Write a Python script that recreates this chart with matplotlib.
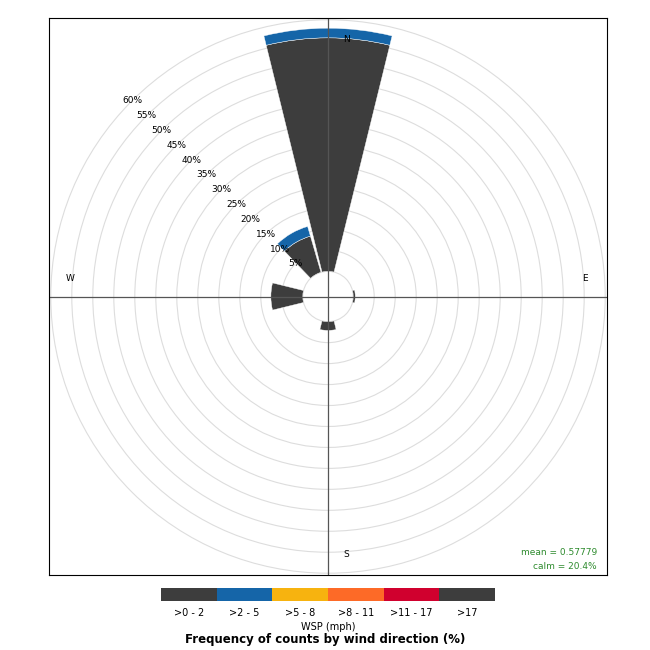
import matplotlib
matplotlib.use("Agg")
import matplotlib.pyplot as plt
from matplotlib.patches import Wedge, Circle, Rectangle
import numpy as np

# wind direction sectors (deg) and frequency per speed band (%)
directions = [0, 90, 180, 270, 330]
band_0_2 = [55.7, 0.5, 2.1, 7.6, 9.0]
band_2_5 = [2.3, 0.0, 0.0, 0.0, 2.4]
bands = [band_0_2, band_2_5]
band_labels = [">0 - 2", ">2 - 5", ">5 - 8", ">8 - 11", ">11 - 17", ">17"]
band_colors = ["#3d3d3d", "#1565a8", "#f7b30f", "#fd6a27", "#d0002e", "#3d3d3d"]
ring_levels = list(range(5, 65, 5))
mean_ws = 0.57779
calm = 20.4

hole = 6.0
sector = 30.0
gap = 1.2

fig = plt.figure(figsize=(6.5, 6.5), dpi=100)
ax = fig.add_axes([49 / 650, 75 / 650, 558 / 650, 557 / 650])
lim = 279 / 4.2
ax.set_xlim(-lim, lim)
ax.set_ylim(-lim, lim)
ax.set_xticks([])
ax.set_yticks([])
for s in ax.spines.values():
    s.set_linewidth(0.8)

for lvl in ring_levels:
    ax.add_patch(Circle((0, 0), hole + lvl, fill=False, ec="#dddddd", lw=0.8))
    a = np.deg2rad(135)
    ax.text((hole + lvl) * np.cos(a), (hole + lvl) * np.sin(a), f"{lvl}%",
            fontsize=6.5, ha="center", va="center")
ax.add_patch(Circle((0, 0), hole, fill=False, ec="#dddddd", lw=0.8))

for i, d in enumerate(directions):
    start = hole
    t1 = 90 - d - sector / 2 + gap
    t2 = 90 - d + sector / 2 - gap
    for b, vals in enumerate(bands):
        v = vals[i]
        if v <= 0:
            continue
        ax.add_patch(Wedge((0, 0), start + v, t1, t2, width=v,
                           fc=band_colors[b], ec="white", lw=0.3))
        start += v

r_axis = hole + 64.5
ax.plot([-r_axis, r_axis], [0, 0], color="#555555", lw=0.9)
ax.plot([0, 0], [-r_axis, r_axis], color="#555555", lw=0.9)

kw = dict(fontsize=6.5, ha="center", va="center")
ax.text(18 / 4.2, 257 / 4.2, "N", **kw)
ax.text(18 / 4.2, -258 / 4.2, "S", **kw)
ax.text(257 / 4.2, 18 / 4.2, "E", **kw)
ax.text(-258 / 4.2, 18 / 4.2, "W", **kw)

ax.text(0.982, 0.04, f"mean = {mean_ws}", transform=ax.transAxes,
        fontsize=6.5, color="#2e8b2e", ha="right", va="center")
ax.text(0.982, 0.015, f"calm = {calm}%", transform=ax.transAxes,
        fontsize=6.5, color="#2e8b2e", ha="right", va="center")

lax = fig.add_axes([161 / 650, 49 / 650, 334 / 650, 13 / 650])
lax.set_xlim(0, len(band_labels))
lax.set_ylim(0, 1)
lax.axis("off")
for i, (lab, c) in enumerate(zip(band_labels, band_colors)):
    lax.add_patch(Rectangle((i, 0), 1, 1, fc=c, ec="none"))
    lax.text(i + 0.5, -0.95, lab, fontsize=7, ha="center", va="center")

fig.text(328 / 650, 1 - 627 / 650, "WSP (mph)", fontsize=7, ha="center", va="center")
fig.text(325 / 650, 1 - 639 / 650, "Frequency of counts by wind direction (%)",
         fontsize=8.5, fontweight="bold", ha="center", va="center")

fig.savefig("out.png", dpi=100)
